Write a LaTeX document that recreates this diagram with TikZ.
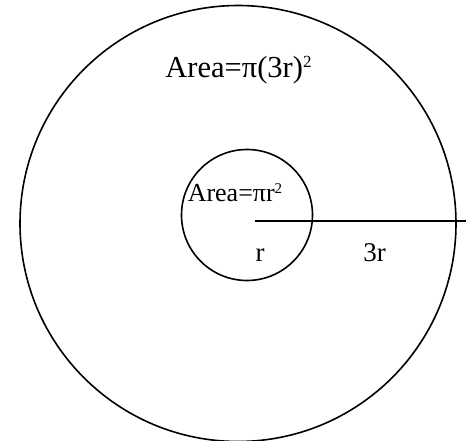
\documentclass[tikz,border=0pt]{standalone}
\usepackage{fontspec}
\setmainfont{Liberation Serif}
\usepackage{tikz}
\newcommand{\sqr}[2]{\raisebox{#1}{\fontsize{#2}{#2}\selectfont 2}}

\begin{document}
\begin{tikzpicture}[
x=1pt,y=-1pt,
ring/.style={draw,circle,inner sep=0pt,outer sep=0pt,line width=1.6pt},
lbl/.style={inner sep=0pt,anchor=base,font=\fontsize{27}{27}\selectfont}
]
\useasboundingbox (0,0) rectangle (467,441);
\node[ring,minimum size=436pt] (big) at (238,223.5) {};
\node[ring,minimum size=131pt] (small) at (247,215) {};
\coordinate (o) at (255,221);
\coordinate (e) at (466,221);

\node[lbl,font=\fontsize{30.5}{30}\selectfont] (ab) at (238.5,77.7) {Area=π(3r)\sqr{10pt}{17}};
\node[lbl,font=\fontsize{26}{26}\selectfont] (as) at (235,201.7) {Area=πr\sqr{8pt}{15}};
\node[lbl] (r) at (260,261.7) {r};
\node[lbl] (r3) at (374.5,262) {3r};

\draw[line width=1.6pt] (o)--(e);
\end{tikzpicture}
\end{document}
